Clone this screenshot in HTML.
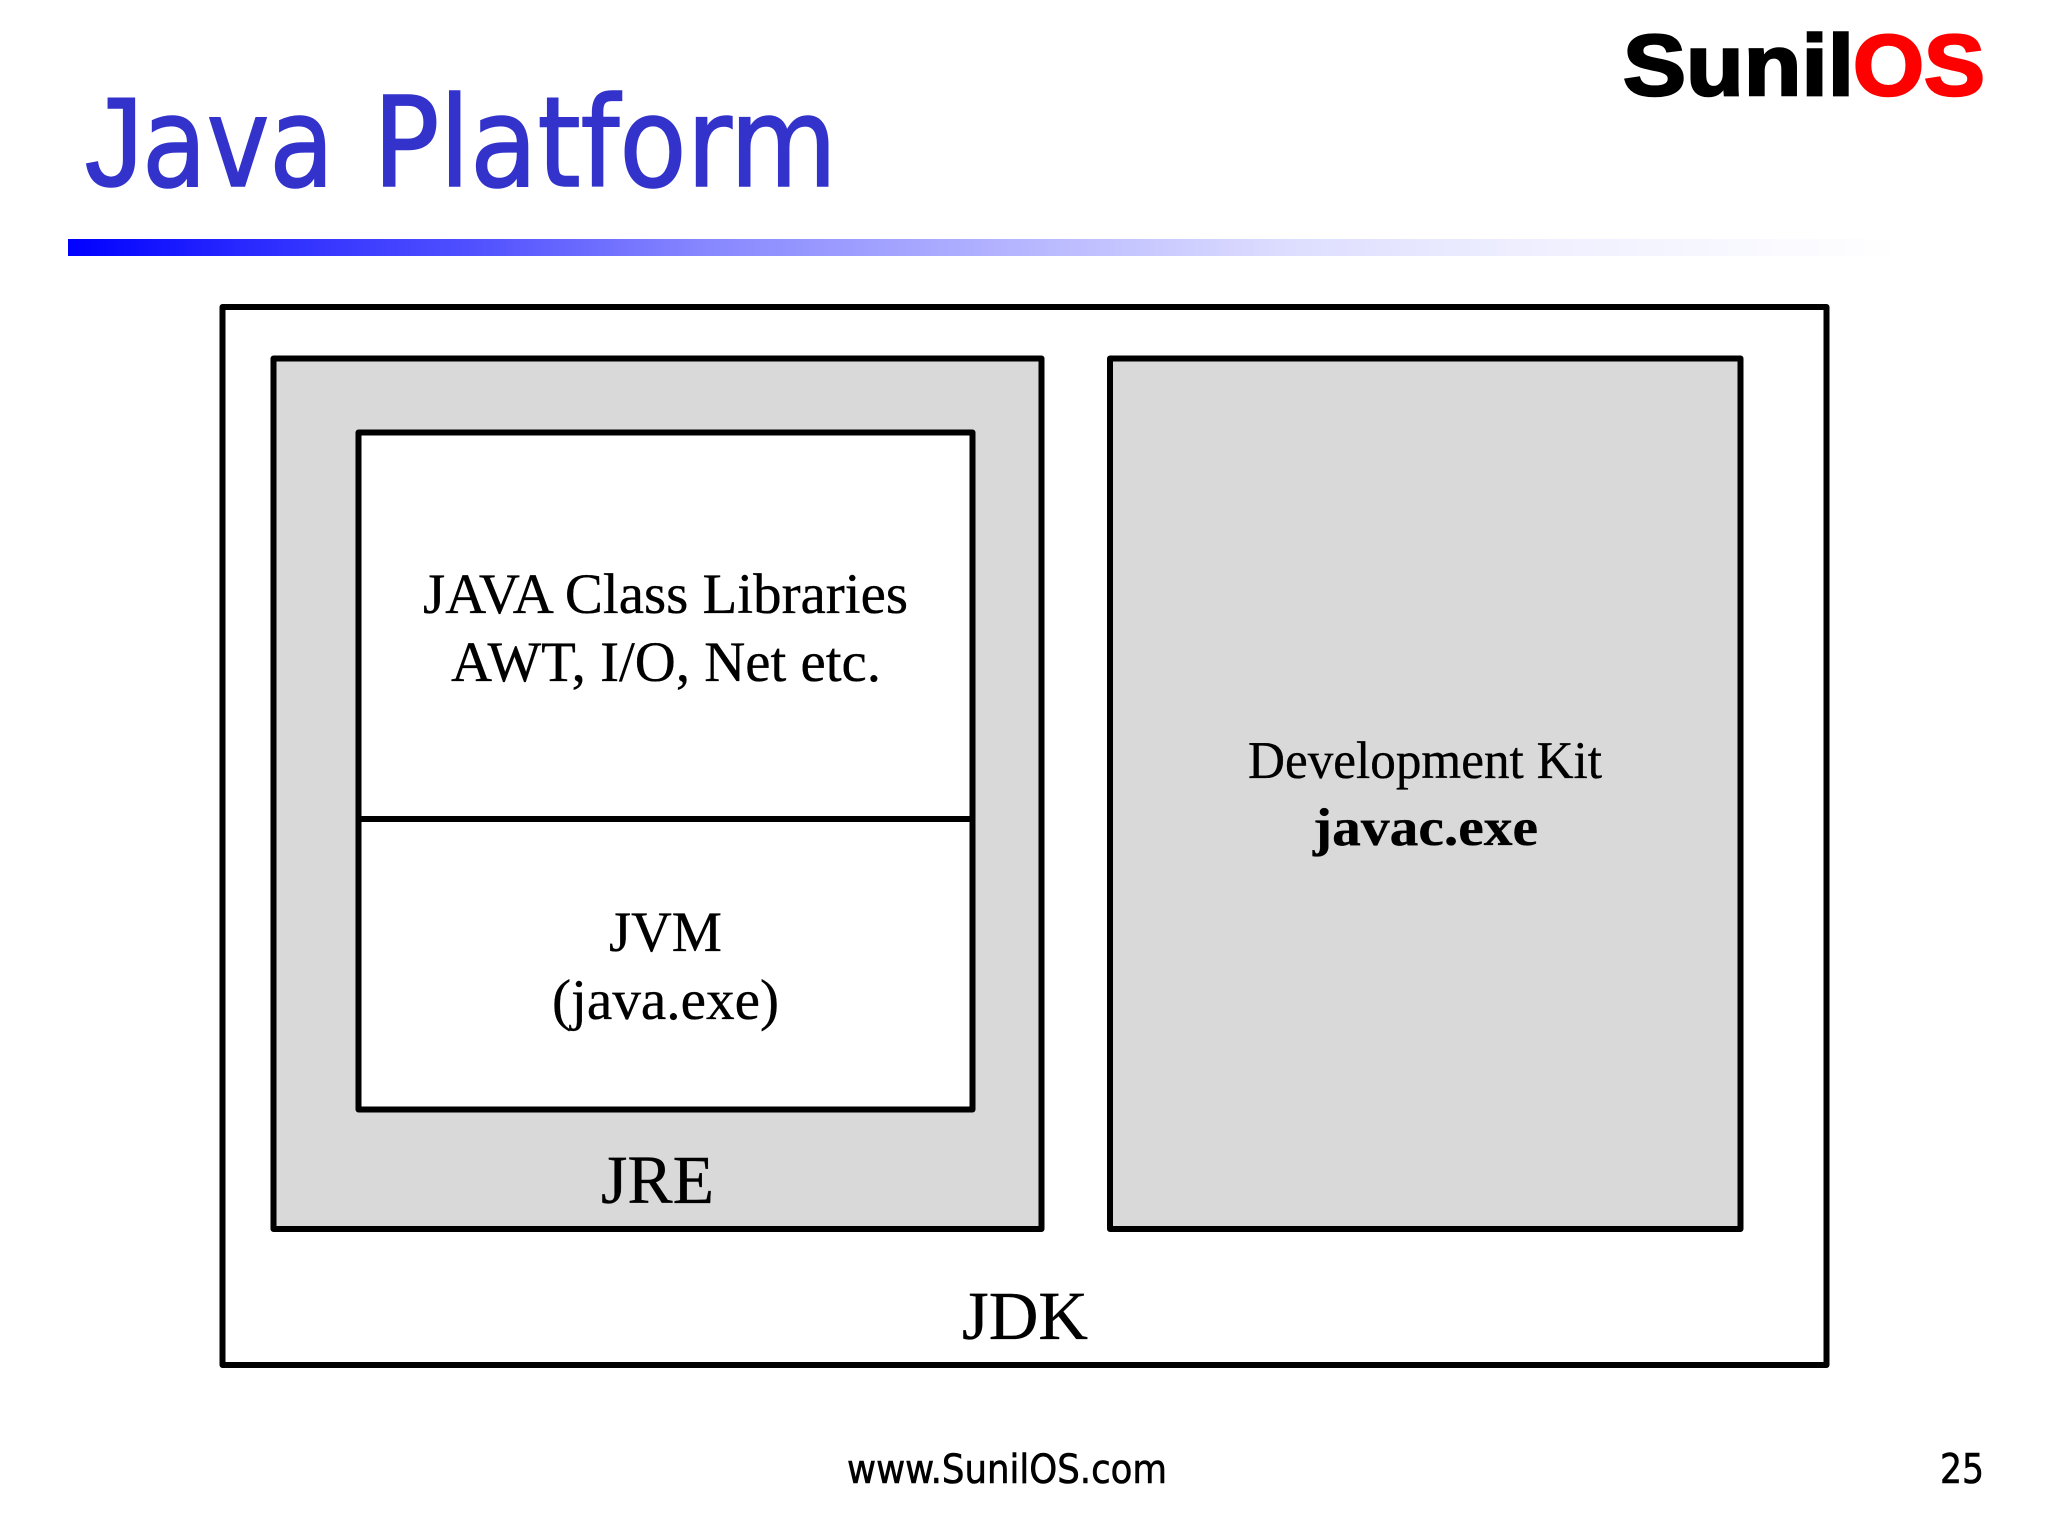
<!DOCTYPE html>
<html>
<head>
<meta charset="utf-8">
<style>
html,body{margin:0;padding:0;background:#fff;width:2048px;height:1536px;overflow:hidden}
svg{display:block}
.t{font-family:"Liberation Serif",serif;fill:#000;stroke:#000;stroke-width:.35px}
.s{font-family:"DejaVu Sans Condensed","DejaVu Sans",sans-serif}
</style>
</head>
<body>
<svg width="2048" height="1536" viewBox="0 0 2048 1536" xmlns="http://www.w3.org/2000/svg">
<defs>
<linearGradient id="g" gradientUnits="userSpaceOnUse" x1="68" y1="0" x2="1900" y2="0">
<stop offset="0" stop-color="#0000ff"/>
<stop offset="0.1" stop-color="#2a2aff"/>
<stop offset="0.22" stop-color="#5050ff"/>
<stop offset="0.35" stop-color="#8888ff"/>
<stop offset="0.53" stop-color="#b8b8ff"/>
<stop offset="0.66" stop-color="#dcdcff"/>
<stop offset="0.79" stop-color="#eeeeff"/>
<stop offset="1" stop-color="#ffffff"/>
</linearGradient>
</defs>
<rect width="2048" height="1536" fill="#fff"/>
<g fill="#3333cc" stroke="#3333cc" stroke-width="1.6">
<text x="85" y="186" font-family="'Liberation Sans',sans-serif" font-size="127" textLength="58" lengthAdjust="spacingAndGlyphs">J</text>
<text class="s" x="142" y="186" font-size="125" textLength="192" lengthAdjust="spacingAndGlyphs">ava</text>
<text class="s" x="373" y="186" font-size="125" textLength="464" lengthAdjust="spacingAndGlyphs">Platform</text>
</g>
<rect x="68" y="239" width="1832" height="17" fill="url(#g)"/>
<g font-family="'Liberation Sans',sans-serif" font-weight="700" font-size="86" stroke-width="2.5">
<text x="1623" y="95" fill="#000" stroke="#000" textLength="231" lengthAdjust="spacingAndGlyphs">Sunil</text>
<text x="1853" y="95" fill="#ff0000" stroke="#ff0000" textLength="132" lengthAdjust="spacingAndGlyphs">OS</text>
</g>
<g stroke="#000" stroke-width="6" stroke-linejoin="round">
<rect x="222.5" y="307" width="1604" height="1058" fill="#fff"/>
<rect x="273.5" y="358.5" width="768" height="870.5" fill="#d9d9d9"/>
<rect x="1110" y="358.5" width="630.5" height="870.5" fill="#d9d9d9"/>
<rect x="358.5" y="432.5" width="614" height="677" fill="#fff"/>
<line x1="358.5" y1="819" x2="972.5" y2="819"/>
</g>
<text class="t" x="423" y="613" font-size="57" textLength="485" lengthAdjust="spacingAndGlyphs">JAVA Class Libraries</text>
<text class="t" x="451" y="681" font-size="57" textLength="430" lengthAdjust="spacingAndGlyphs">AWT, I/O, Net etc.</text>
<text class="t" x="609" y="951" font-size="57" textLength="113" lengthAdjust="spacingAndGlyphs">JVM</text>
<text class="t" x="552" y="1019" font-size="57" textLength="227" lengthAdjust="spacingAndGlyphs">(java.exe)</text>
<text class="t" x="1248" y="778" font-size="53" textLength="354" lengthAdjust="spacingAndGlyphs">Development Kit</text>
<text class="t" x="1313" y="845" font-size="53" font-weight="700" textLength="225" lengthAdjust="spacingAndGlyphs">javac.exe</text>
<text class="t" x="601" y="1203" font-size="69" textLength="113" lengthAdjust="spacingAndGlyphs">JRE</text>
<text class="t" x="962" y="1339" font-size="69" textLength="126" lengthAdjust="spacingAndGlyphs">JDK</text>
<g fill="#000" stroke="#000" stroke-width=".6">
<text class="s" x="847" y="1483" font-size="40" textLength="320" lengthAdjust="spacingAndGlyphs">www.SunilOS.com</text>
<text class="s" x="1940" y="1483" font-size="41" textLength="44" lengthAdjust="spacingAndGlyphs">25</text>
</g>
</svg>
</body>
</html>
